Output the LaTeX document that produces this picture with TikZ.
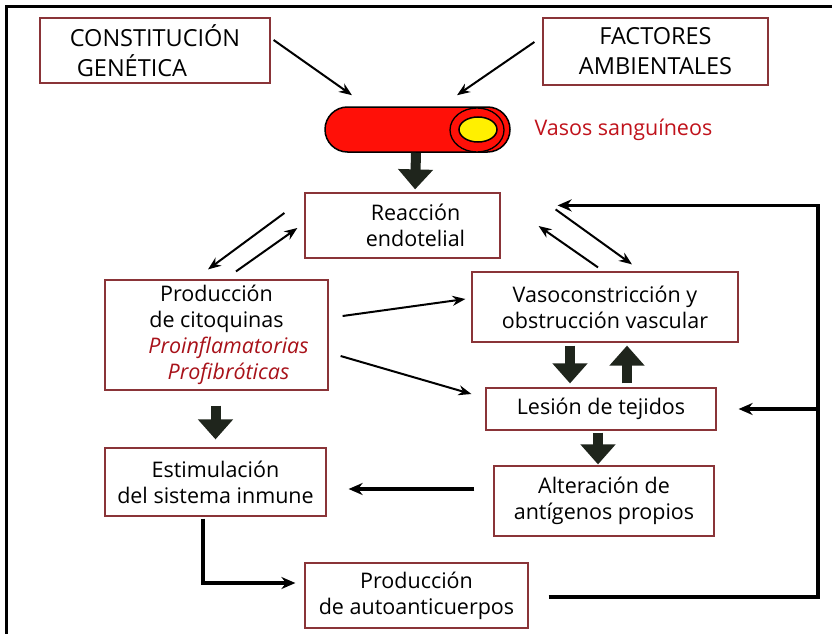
\documentclass[tikz,border=0pt]{standalone}
\usepackage{fontspec}
\setmainfont{Open Sans}
\usetikzlibrary{arrows.meta,shapes.misc}

\definecolor{boxred}{HTML}{8A3438}
\definecolor{bloodred}{HTML}{FF1008}
\definecolor{labelred}{HTML}{C0121B}
\definecolor{italred}{HTML}{A8121A}
\definecolor{arrowdark}{HTML}{1F251C}
\definecolor{lumen}{HTML}{FFF000}

\tikzset{
  box/.style={draw=boxred, line width=1.2pt, align=center, inner sep=0pt,
    font=\fontsize{21.5}{26}\selectfont},
  capsbox/.style={box, font=\fontsize{23.5}{30}\selectfont},
  vessel/.style={rounded rectangle, draw=black, line width=1.5pt, fill=bloodred,
    minimum width=185pt, minimum height=45pt, inner sep=0pt},
  thinarrow/.style={line width=2pt, -{Stealth[length=13pt,width=10pt]}},
  blockarrow/.style={draw=arrowdark, line width=10pt, -{Triangle[length=20pt,width=34pt]}},
  feedline/.style={line width=3.5pt, -{Stealth[length=14pt,width=12pt]}},
}

\begin{document}
\begin{tikzpicture}[x=1pt,y=-1pt]
  \useasboundingbox (0,0) rectangle (832,634);
  % frame
  \draw[line width=3pt] (6,660) -- (6,7) -- (850,7);

  % top row
  \node[capsbox, align=left, minimum width=230pt, minimum height=65pt] (gen) at (155,50.5)
    {CONSTITUCIÓN\\\hspace*{7pt}GENÉTICA};
  \node[capsbox, minimum width=225pt, minimum height=67pt] (amb) at (655.5,51.5)
    {FACTORES\\AMBIENTALES};

  % blood vessel
  \node[vessel] (vasos) at (417.5,129.5) {};
  \draw[line width=1.3pt, fill=bloodred] (477,130) ellipse [x radius=27, y radius=22];
  \draw[line width=1.5pt, fill=lumen] (478,129.5) ellipse [x radius=19, y radius=12.5];
  \node[anchor=west, text=labelred, font=\fontsize{21.5}{26}\selectfont] (vasoslbl)
    at (531,130) {Vasos sanguíneos};

  % middle
  \node[box, minimum width=195pt, minimum height=65pt] (reac) at (402.5,225.5)
    {\hspace*{26pt}Reacción\\\hspace*{26pt}endotelial};
  \node[box, minimum width=223pt, minimum height=110pt] (cito) at (216.5,335)
    {Producción\\de citoquinas\\
     \hspace*{24pt}{\itshape\color{italred}Proinflamatorias}\\
     \hspace*{24pt}{\itshape\color{italred}Profibróticas}};
  \node[box, minimum width=266pt, minimum height=70pt] (vaso) at (605,307)
    {Vasoconstricción y\\obstrucción vascular};
  \node[box, minimum width=230pt, minimum height=42pt] (lesion) at (601,409)
    {Lesión de tejidos};

  % bottom
  \node[box, minimum width=221pt, minimum height=68pt] (estim) at (215.5,482)
    {Estimulación\\del sistema inmune};
  \node[box, minimum width=220pt, minimum height=70pt] (alter) at (604,501)
    {Alteración de\\antígenos propios};
  \node[box, minimum width=223pt, minimum height=65pt] (auto) at (416.5,595.5)
    {Producción\\de autoanticuerpos};

  % thin arrows
  \draw[thinarrow] ([xshift=3pt,yshift=10.5pt]gen.east) -- ([xshift=-65.5pt,yshift=11pt]vasos.north);
  \draw[thinarrow] ([xshift=-8pt,yshift=9.5pt]amb.west) -- ([xshift=39.5pt,yshift=11pt]vasos.north);
  \draw[thinarrow] ([xshift=-20pt,yshift=12.5pt]reac.west) -- ([xshift=-8.5pt,yshift=10pt]cito.north);
  \draw[thinarrow] ([xshift=19.5pt,yshift=8pt]cito.north) -- ([xshift=-7pt,yshift=-2.5pt]reac.west);
  \draw[thinarrow] ([xshift=55pt,yshift=-17pt]reac.north east) -- ([xshift=27pt,yshift=7pt]vaso.north);
  \draw[thinarrow] ([xshift=-7pt,yshift=4pt]vaso.north) -- ([xshift=38pt,yshift=-0.5pt]reac.east);
  \draw[thinarrow] ([xshift=14pt,yshift=19pt]cito.east) -- ([xshift=-6pt,yshift=8pt]vaso.west);
  \draw[thinarrow] ([xshift=12pt,yshift=-21pt]cito.east) -- ([xshift=-14pt,yshift=15pt]lesion.west);

  % block arrows
  \draw[blockarrow, shorten >=3pt] ([xshift=-1.5pt]vasos.south) -- ([xshift=12.5pt]reac.north);
  \draw[blockarrow, shorten <=3pt, shorten >=4pt] ([xshift=-35pt]vaso.south) -- ([xshift=-31pt]lesion.north);
  \draw[blockarrow, shorten <=4pt, shorten >=3pt] ([xshift=26pt]lesion.north) -- ([xshift=22pt]vaso.south);
  \draw[blockarrow, shorten <=15pt, shorten >=8pt] ([xshift=-1pt]cito.south) -- (estim.north);
  \draw[blockarrow, shorten <=2pt, shorten >=1pt] ([xshift=-3pt]lesion.south) -- ([xshift=-6pt]alter.north);

  % thick connectors
  \draw[feedline] ([xshift=-19pt,yshift=12pt]alter.west) -- ([xshift=22pt,yshift=-7pt]estim.east);
  \draw[feedline] ([xshift=-12.5pt,yshift=-2pt]estim.south) |- ([xshift=-9pt,yshift=12.5pt]auto.west);

  % feedback loop
  \coordinate (rail) at (818,0);
  \draw[feedline] ([xshift=20pt,yshift=-1.5pt]auto.east) -| ([yshift=-13pt]rail |- reac.north)
    -- ([xshift=57pt,yshift=-13pt]reac.north east);
  \draw[feedline] (rail |- lesion.east) -- ([xshift=22pt]lesion.east);
\end{tikzpicture}
\end{document}
